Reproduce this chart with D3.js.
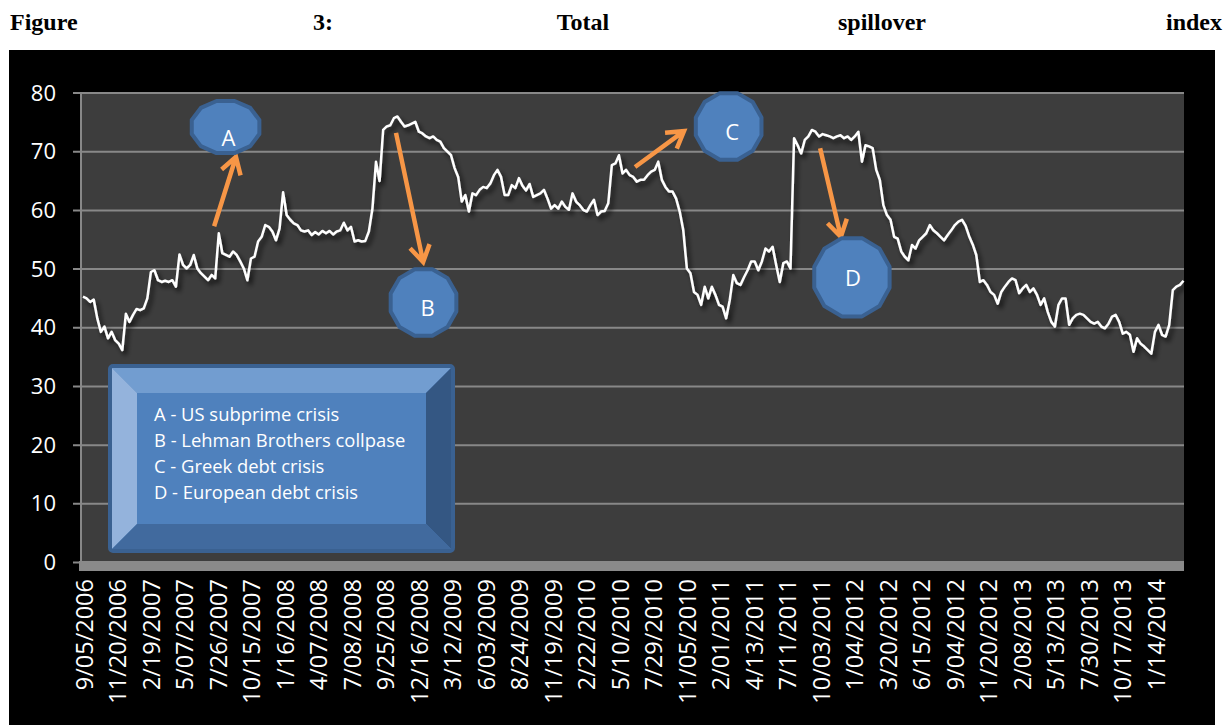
<!doctype html>
<html>
<head>
<meta charset="utf-8">
<script src="https://cdnjs.cloudflare.com/ajax/libs/d3/7.8.5/d3.min.js"></script>
<style>
  body { margin: 0; background: #fff; }
  svg { display: block; }
</style>
</head>
<body>
<svg id="chart" width="1231" height="725"></svg>
<script>
// total spillover index (one value per ~6 trading days)
var values = [
  45.3, 45.0, 44.4, 44.8, 41.6, 39.3, 40.2, 38.2, 39.3, 37.9,
  37.3, 36.2, 42.4, 41.0, 42.2, 43.2, 43.0, 43.3, 45.0, 49.5,
  49.8, 48.1, 47.8, 48.0, 47.8, 48.1, 47.0, 52.5, 50.7, 50.1,
  50.7, 52.4, 50.1, 49.3, 48.7, 48.1, 49.0, 48.4, 56.1, 52.7,
  52.4, 52.1, 53.0, 52.4, 51.3, 50.1, 48.1, 51.8, 52.1, 54.7,
  55.5, 57.5, 57.2, 56.4, 54.9, 56.9, 63.1, 59.2, 58.4, 57.8,
  57.5, 56.6, 56.4, 56.6, 55.8, 56.3, 55.9, 56.5, 56.1, 56.5,
  55.9, 56.4, 56.6, 57.9, 56.6, 57.2, 54.7, 54.9, 54.7, 54.8,
  56.4, 60.3, 68.3, 65.0, 73.7, 74.3, 74.5, 75.7, 76.0, 75.1,
  74.3, 74.5, 74.8, 75.1, 73.4, 73.1, 72.6, 72.3, 72.6, 72.0,
  71.7, 70.6, 70.0, 69.4, 67.2, 65.7, 61.5, 62.6, 59.8, 62.9,
  62.6, 63.5, 64.0, 63.8, 64.6, 66.0, 66.9, 65.7, 62.6, 62.6,
  64.3, 63.8, 65.5, 64.2, 63.4, 64.5, 62.3, 62.6, 62.9, 63.5,
  62.0, 60.3, 60.9, 60.3, 61.5, 60.6, 60.1, 62.9, 61.5, 60.9,
  60.1, 59.8, 60.9, 61.8, 59.2, 59.8, 59.9, 61.2, 67.7, 68.0,
  69.4, 66.3, 66.9, 66.0, 65.7, 64.9, 65.2, 65.2, 66.0, 66.6,
  66.9, 68.3, 65.2, 64.0, 63.2, 63.2, 62.0, 59.8, 56.6, 50.1,
  49.3, 46.1, 45.6, 43.9, 47.0, 45.0, 47.0, 45.6, 43.9, 43.6,
  41.6, 44.7, 49.0, 47.6, 47.3, 48.6, 49.8, 51.3, 51.3, 49.8,
  51.3, 53.5, 53.0, 53.8, 50.7, 47.8, 51.0, 51.3, 50.1, 72.3,
  71.1, 69.7, 72.0, 72.6, 73.7, 73.4, 72.6, 73.0, 72.8, 72.6,
  72.3, 72.6, 72.8, 72.3, 72.6, 72.0, 72.6, 73.4, 68.3, 71.1,
  70.9, 70.6, 66.9, 65.2, 60.9, 59.2, 58.4, 55.5, 55.2, 53.0,
  52.1, 51.5, 54.1, 53.5, 54.9, 55.5, 56.1, 57.5, 56.6, 56.1,
  55.5, 54.9, 55.8, 56.6, 57.5, 58.1, 58.4, 57.4, 55.6, 54.2,
  52.4, 47.8, 48.1, 47.3, 46.1, 45.6, 44.1, 46.1, 47.0, 47.8,
  48.4, 48.1, 45.9, 46.7, 47.3, 46.1, 46.7, 45.6, 43.9, 45.0,
  42.7, 41.0, 40.2, 43.9, 45.0, 45.0, 40.5, 41.6, 42.2, 42.4,
  42.2, 41.6, 41.0, 40.7, 41.0, 40.2, 39.9, 40.7, 41.9, 42.2,
  41.0, 39.0, 39.3, 38.8, 35.9, 38.2, 37.3, 36.8, 36.2, 35.6,
  39.3, 40.5, 38.8, 38.5, 40.5, 46.4, 47.0, 47.3, 48.0
];

var dateLabels = [
  "9/05/2006", "11/20/2006", "2/19/2007", "5/07/2007", "7/26/2007",
  "10/15/2007", "1/16/2008", "4/07/2008", "7/08/2008", "9/25/2008",
  "12/16/2008", "3/12/2009", "6/03/2009", "8/24/2009", "11/19/2009",
  "2/22/2010", "5/10/2010", "7/29/2010", "11/05/2010", "2/01/2011",
  "4/13/2011", "7/11/2011", "10/03/2011", "1/04/2012", "3/20/2012",
  "6/15/2012", "9/04/2012", "11/20/2012", "2/08/2013", "5/13/2013",
  "7/30/2013", "10/17/2013", "1/14/2014"
];
var samplesPerLabel = 9.375;

var yTicks = [0, 10, 20, 30, 40, 50, 60, 70, 80];

var titleWords = ["Figure", "3:", "Total", "spillover", "index"];

// callouts: letter, centre (sample index, value), arrow tail and head
var callouts = [
  {letter: "A", ci: 39.9, cv: 74.2, rx: 35, ry: 27, tx: 3, ty: 11, from: [36.7, 57.3], to: [42.8, 69.1]},
  {letter: "B", ci: 95.3, cv: 44.3, rx: 34, ry: 34.5, tx: 4, ty: 5.5, from: [87.6, 73.2], to: [95.2, 51.2]},
  {letter: "C", ci: 180.7, cv: 74.3, rx: 34, ry: 34.5, tx: 3.5, ty: 5.5, from: [154.5, 67.4], to: [168.2, 73.5]},
  {letter: "D", ci: 215.2, cv: 48.6, rx: 39, ry: 40.5, tx: 1, ty: 1.5, from: [206.3, 70.6], to: [212.1, 55.5]}
];

var legendLines = [
  "A - US subprime crisis",
  "B - Lehman Brothers collpase",
  "C - Greek debt crisis",
  "D - European debt crisis"
];

var svg = d3.select("#chart");
var font = "'Open Sans', sans-serif";

// title, spread across the line like justified text
var titleX = [10, 323, 583, 882, 1222];
svg.selectAll("text.title")
  .data(titleWords)
  .enter()
  .append("text")
  .attr("class", "title")
  .attr("x", (d, i) => titleX[i])
  .attr("y", 30)
  .attr("text-anchor", (d, i) => i == 0 ? "start" : (i == titleWords.length - 1 ? "end" : "middle"))
  .style("font-family", "'Liberation Serif', 'Times New Roman', serif")
  .style("font-weight", "bold")
  .style("font-size", "24px")
  .text(d => d);

// black chart area
svg.append("rect")
  .attr("x", 9).attr("y", 50)
  .attr("width", 1206).attr("height", 675)
  .style("fill", "#000");

var plotLeft = 81, plotRight = 1184, plotTop = 93, plotBottom = 562.5;

var x = d3.scaleLinear().domain([0, values.length - 1]).range([83, 1183.5]);
var y = d3.scaleLinear().domain([0, 80]).range([plotBottom, plotTop]);

var defs = svg.append("defs");
var f = defs.append("filter").attr("id", "shadow")
  .attr("x", "-5%").attr("y", "-10%").attr("width", "110%").attr("height", "130%");
f.append("feDropShadow")
  .attr("dx", 3).attr("dy", 4).attr("stdDeviation", 2.5)
  .attr("flood-color", "#000").attr("flood-opacity", 0.75);

// plot area
svg.append("rect")
  .attr("x", plotLeft).attr("y", plotTop)
  .attr("width", plotRight - plotLeft).attr("height", plotBottom - plotTop)
  .style("fill", "#3d3d3d");

// gridlines (extend left as tick marks)
svg.selectAll("line.grid")
  .data(yTicks.filter(d => d > 0))
  .enter()
  .append("line")
  .attr("class", "grid")
  .attr("x1", 73).attr("x2", plotRight)
  .attr("y1", d => y(d)).attr("y2", d => y(d))
  .style("stroke", "#888")
  .style("stroke-width", "2px");

// vertical axis line
svg.append("line")
  .attr("x1", plotLeft).attr("x2", plotLeft)
  .attr("y1", plotTop).attr("y2", plotBottom)
  .style("stroke", "#888")
  .style("stroke-width", "2px");

// floor of the category axis
svg.append("rect")
  .attr("x", 79).attr("y", 561)
  .attr("width", plotRight - 79).attr("height", 10)
  .style("fill", "#8a8a8a");
svg.append("line")
  .attr("x1", 73).attr("x2", 80)
  .attr("y1", y(0)).attr("y2", y(0))
  .style("stroke", "#888")
  .style("stroke-width", "2px");

// y axis labels
var yAxis = d3.axisLeft(y).tickValues(yTicks).tickSize(0).tickPadding(25);
var yg = svg.append("g").attr("transform", "translate(" + plotLeft + ",0)").call(yAxis);
yg.select(".domain").remove();
yg.selectAll("text")
  .style("font-family", font)
  .style("font-size", "22px")
  .style("fill", "#fff");

// x axis labels, rotated
var xAxis = d3.axisBottom(x)
  .tickValues(dateLabels.map((d, k) => k * samplesPerLabel))
  .tickFormat((d, k) => dateLabels[k])
  .tickSize(0);
var xg = svg.append("g").attr("transform", "translate(1,579)").call(xAxis);
xg.select(".domain").remove();
xg.selectAll("text")
  .attr("transform", "rotate(-90)")
  .attr("x", 0).attr("y", 0)
  .attr("dy", "0.35em")
  .attr("text-anchor", "end")
  .style("font-family", font)
  .style("font-size", "23.5px")
  .style("fill", "#fff");

// the index line
var line = d3.line()
  .x((d, i) => x(i))
  .y(d => y(d));

svg.append("path")
  .datum(values)
  .attr("d", line)
  .attr("filter", "url(#shadow)")
  .style("fill", "none")
  .style("stroke", "#fff")
  .style("stroke-width", "2.5px")
  .style("stroke-linejoin", "round");

// legend box with bevel
var lb = {x0: 110, y0: 366, x1: 453, y1: 551, b: 27};
var bev = svg.append("g");
function poly(pts, fill) {
  bev.append("polygon")
    .attr("points", pts.map(p => p.join(",")).join(" "))
    .style("fill", fill);
}
var ix0 = lb.x0 + lb.b, iy0 = lb.y0 + lb.b, ix1 = lb.x1 - lb.b, iy1 = lb.y1 - lb.b;
bev.append("rect")
  .attr("x", lb.x0).attr("y", lb.y0)
  .attr("width", lb.x1 - lb.x0).attr("height", lb.y1 - lb.y0)
  .attr("rx", 3)
  .style("fill", "#4f81bd")
  .style("stroke", "#3a6191")
  .style("stroke-width", "4px");
poly([[lb.x0 + 2, lb.y0 + 2], [lb.x1 - 2, lb.y0 + 2], [ix1, iy0], [ix0, iy0]], "#729dd0");
poly([[lb.x0 + 2, lb.y0 + 2], [ix0, iy0], [ix0, iy1], [lb.x0 + 2, lb.y1 - 2]], "#94b3dc");
poly([[lb.x1 - 2, lb.y0 + 2], [lb.x1 - 2, lb.y1 - 2], [ix1, iy1], [ix1, iy0]], "#345783");
poly([[lb.x0 + 2, lb.y1 - 2], [ix0, iy1], [ix1, iy1], [lb.x1 - 2, lb.y1 - 2]], "#416a9e");
bev.append("rect")
  .attr("x", ix0).attr("y", iy0)
  .attr("width", ix1 - ix0).attr("height", iy1 - iy0)
  .style("fill", "#4f81bd");

svg.selectAll("text.legend")
  .data(legendLines)
  .enter()
  .append("text")
  .attr("class", "legend")
  .attr("x", 154)
  .attr("y", (d, i) => 421 + i * 26)
  .style("font-family", font)
  .style("font-size", "18.4px")
  .style("fill", "#fff")
  .text(d => d);

// callout arrows
function arrowPath(c) {
  var x1 = x(c.from[0]), y1 = y(c.from[1]), x2 = x(c.to[0]), y2 = y(c.to[1]);
  var a = Math.atan2(y2 - y1, x2 - x1), len = 19, sp = 0.55;
  var w1 = [x2 - len * Math.cos(a - sp), y2 - len * Math.sin(a - sp)];
  var w2 = [x2 - len * Math.cos(a + sp), y2 - len * Math.sin(a + sp)];
  return "M" + x1 + "," + y1 + "L" + x2 + "," + y2 +
    "M" + w1[0] + "," + w1[1] + "L" + x2 + "," + y2 + "L" + w2[0] + "," + w2[1];
}
svg.selectAll("path.arrow")
  .data(callouts)
  .enter()
  .append("path")
  .attr("class", "arrow")
  .attr("d", arrowPath)
  .style("fill", "none")
  .style("stroke", "#f79646")
  .style("stroke-width", "4.5px")
  .style("stroke-linejoin", "miter");

// callout shapes (12-sided)
function shapePoints(c) {
  var cx = x(c.ci), cy = y(c.cv), pts = [];
  for (var k = 0; k < 12; k++) {
    var t = (15 + k * 30) * Math.PI / 180;
    pts.push([cx + c.rx * Math.cos(t), cy + c.ry * Math.sin(t)]);
  }
  return pts.map(p => p.join(",")).join(" ");
}
var cg = svg.selectAll("g.callout")
  .data(callouts)
  .enter()
  .append("g")
  .attr("class", "callout");
cg.append("polygon")
  .attr("points", shapePoints)
  .style("fill", "#4f81bd")
  .style("stroke", "#3a6191")
  .style("stroke-width", "4px")
  .style("stroke-linejoin", "round");
cg.append("text")
  .attr("x", d => x(d.ci) + d.tx)
  .attr("y", d => y(d.cv) + d.ty)
  .attr("dy", "0.35em")
  .attr("text-anchor", "middle")
  .style("font-family", font)
  .style("font-size", "22px")
  .style("fill", "#fff")
  .text(d => d.letter);
</script>
</body>
</html>
